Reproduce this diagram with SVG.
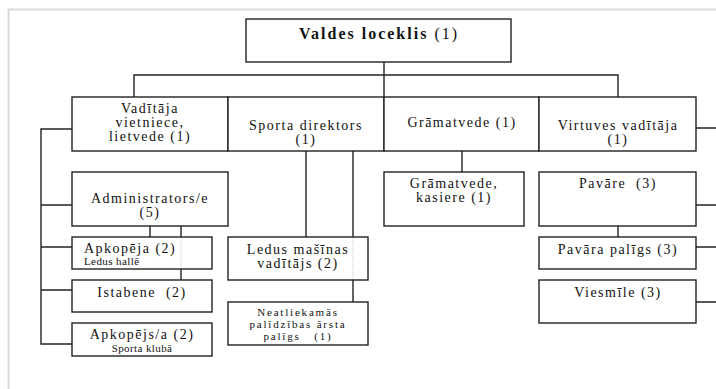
<svg xmlns="http://www.w3.org/2000/svg" width="716" height="389" viewBox="0 0 716 389">
<style>
.bx{fill:#fff;stroke:#222;stroke-width:1.4}
.ln{fill:none;stroke:#222;stroke-width:1.4}
.dot{fill:none;stroke:#c8c8c8;stroke-width:1;stroke-dasharray:1 1}
.m,.l,.s,.sm,.n,.t{font-family:"Liberation Serif","DejaVu Serif",serif;fill:#111}
.m{font-size:14px;letter-spacing:1.5px;text-anchor:middle}
.l{font-size:14px;letter-spacing:1.5px}
.s{font-size:11px;letter-spacing:0.4px}
.sm{font-size:11px;letter-spacing:0.4px;text-anchor:middle}
.n{font-size:11px;letter-spacing:1.8px;text-anchor:middle}
.t{font-size:16px;letter-spacing:2px;text-anchor:middle}
</style>
<rect x="0" y="0" width="716" height="389" fill="#fff"/>
<path d="M8.5 389V9.5H716" fill="none" stroke="#dadada" stroke-width="2"/>
<g id="connectors">
<path class="ln" d="M384 62V97M134 97V75H618V97"/>
<path class="ln" d="M72 129H41V344H72M41 205H72M41 247H72M41 290H72"/>
<path class="ln" d="M150 226V237M181 226V237M181 269V280"/>
<path class="ln" d="M306 151V237M353 151V237M353 280V302"/>
<path class="ln" d="M462 151V172"/>
<path class="ln" d="M618 226V237"/>
<path class="ln" d="M696 128H716M696 205H716M696 247H716M696 302H716"/>
</g>
<g font-family="Liberation Serif, DejaVu Serif, serif">
<g id="valdes"><rect class="bx" x="246" y="19" width="265" height="43"/>
<text class="t" x="379" y="39"><tspan font-weight="bold">Valdes loceklis</tspan> (1)</text></g>
<g id="vaditaja"><rect class="bx" x="72" y="97" width="156" height="54"/>
<text class="m" x="150" y="113">Vadītāja</text><text class="m" x="150" y="127">vietniece,</text><text class="m" x="150" y="141">lietvede (1)</text></g>
<g id="sporta"><rect class="bx" x="228" y="97" width="156" height="54"/>
<text class="m" x="306" y="130">Sporta direktors</text><text class="m" x="306" y="144">(1)</text></g>
<g id="gramatvede"><rect class="bx" x="384" y="97" width="155" height="54"/>
<text class="m" x="462" y="127">Grāmatvede (1)</text></g>
<g id="virtuves"><rect class="bx" x="539" y="97" width="157" height="54"/>
<text class="m" x="618" y="130">Virtuves vadītāja</text><text class="m" x="618" y="144">(1)</text></g>
<g id="admin"><rect class="bx" x="72" y="172" width="156" height="54"/>
<text class="m" x="150" y="203">Administrators/e</text><text class="m" x="150" y="217">(5)</text></g>
<g id="apkopeja"><rect class="bx" x="72" y="237" width="140" height="32"/>
<line class="dot" x1="181" y1="238" x2="181" y2="268"/>
<text class="l" x="84" y="253">Apkopēja (2)</text><text class="s" x="84" y="265">Ledus hallē</text></g>
<g id="istabene"><rect class="bx" x="72" y="280" width="140" height="32"/>
<text class="m" x="142" y="297" xml:space="preserve">Istabene  (2)</text></g>
<g id="apkopejs"><rect class="bx" x="72" y="323" width="140" height="33"/>
<text class="m" x="142" y="339">Apkopējs/a (2)</text><text class="sm" x="142" y="352">Sporta klubā</text></g>
<g id="ledus"><rect class="bx" x="228" y="237" width="140" height="43"/>
<line class="dot" x1="353" y1="238" x2="353" y2="279"/>
<text class="m" x="298" y="254">Ledus mašīnas</text><text class="m" x="298" y="268">vadītājs (2)</text></g>
<g id="neatliekamas"><rect class="bx" x="228" y="302" width="140" height="43"/>
<text class="n" x="298" y="316">Neatliekamās</text><text class="n" x="298" y="328">palīdzības ārsta</text><text class="n" x="298" y="340" xml:space="preserve">palīgs   (1)</text></g>
<g id="kasiere"><rect class="bx" x="384" y="172" width="140" height="54"/>
<text class="m" x="454" y="188">Grāmatvede,</text><text class="m" x="454" y="202">kasiere (1)</text></g>
<g id="pavare"><rect class="bx" x="539" y="172" width="157" height="54"/>
<text class="m" x="618" y="188" xml:space="preserve">Pavāre  (3)</text></g>
<g id="pavara-paligs"><rect class="bx" x="539" y="237" width="157" height="32"/>
<text class="m" x="618" y="254">Pavāra palīgs (3)</text></g>
<g id="viesmile"><rect class="bx" x="539" y="280" width="157" height="43"/>
<text class="m" x="618" y="297">Viesmīle (3)</text></g>
</g>
</svg>
